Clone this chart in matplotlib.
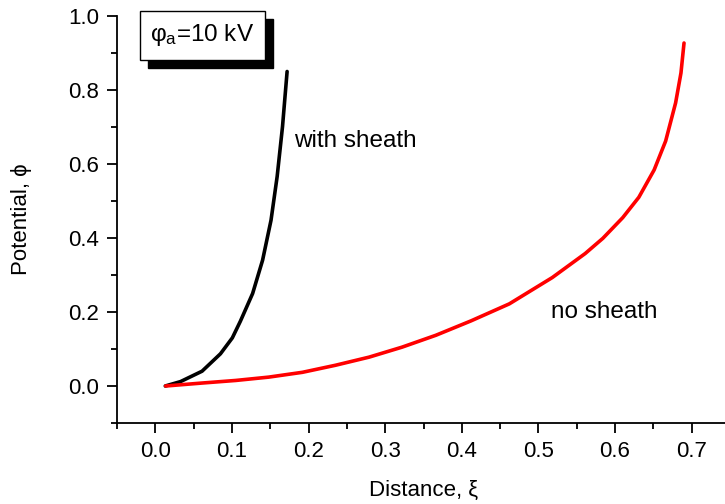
import matplotlib
matplotlib.use("Agg")
import matplotlib.pyplot as plt
from matplotlib.ticker import MultipleLocator
from matplotlib.patches import Rectangle

plt.rcParams['font.family'] = ['Liberation Sans', 'DejaVu Sans']
plt.rcParams['mathtext.fontset'] = 'custom'
plt.rcParams['mathtext.rm'] = 'Liberation Sans'
plt.rcParams['mathtext.it'] = 'Liberation Sans:italic'

# with sheath (black)
xi_sheath = [0.013, 0.033, 0.061, 0.085, 0.1005, 0.111, 0.127, 0.140, 0.151, 0.159, 0.166, 0.172]
phi_sheath = [0.0, 0.012, 0.040, 0.087, 0.130, 0.175, 0.250, 0.340, 0.448, 0.566, 0.701, 0.850]

# no sheath (red)
xi_nosheath = [0.0135, 0.061, 0.105, 0.148, 0.192, 0.235, 0.279, 0.322, 0.366, 0.412, 0.462,
               0.518, 0.561, 0.584, 0.610, 0.631, 0.651, 0.666, 0.679, 0.686, 0.690]
phi_nosheath = [0.0, 0.008, 0.015, 0.024, 0.037, 0.056, 0.078, 0.105, 0.137, 0.176, 0.222,
                0.293, 0.358, 0.399, 0.455, 0.510, 0.584, 0.662, 0.765, 0.846, 0.927]

x_ticks = [0.0, 0.1, 0.2, 0.3, 0.4, 0.5, 0.6, 0.7]
y_ticks = [0.0, 0.2, 0.4, 0.6, 0.8, 1.0]

fig = plt.figure(figsize=(7.25, 5.04), dpi=100)
W, H = 725, 504
left, right, top, bottom = 117, 730, 16, 423
ax = fig.add_axes([left / W, 1 - bottom / H, (right - left) / W, (bottom - top) / H])

ax.plot(xi_sheath, phi_sheath, color='black', lw=2.6, solid_capstyle='round',
        solid_joinstyle='round')
ax.plot(xi_nosheath, phi_nosheath, color='red', lw=2.6, solid_capstyle='round',
        solid_joinstyle='round')

ax.set_xlim(-0.05, 0.75)
ax.set_ylim(-0.1, 1.0)
ax.set_xticks(x_ticks)
ax.set_yticks(y_ticks)
ax.set_xticklabels([f"{v:.1f}" for v in x_ticks])
ax.set_yticklabels([f"{v:.1f}" for v in y_ticks])
ax.xaxis.set_minor_locator(MultipleLocator(0.05))
ax.yaxis.set_minor_locator(MultipleLocator(0.1))
for s in ['top', 'right']:
    ax.spines[s].set_visible(False)
for s in ['left', 'bottom']:
    ax.spines[s].set_linewidth(1.3)
ax.tick_params(which='major', direction='out', length=7, width=1.3, labelsize=16, pad=6)
ax.tick_params(which='minor', direction='out', length=4, width=1.3)

ax.set_xlabel('Distance, ξ', fontsize=16, labelpad=13)
ax.set_ylabel('Potential, ϕ', fontsize=16, labelpad=26)

ax.text(0.181, 0.661, 'with sheath', fontsize=17.5, va='center', ha='left')
ax.text(0.517, 0.20, 'no sheath', fontsize=17.5, va='center', ha='left')

# legend-like box with shadow (figure pixel coordinates)
bx0, by0, bx1, by1 = 140, 11, 265, 60
off = 8
fig.patches.append(Rectangle((((bx0 + off) / W), 1 - (by1 + off) / H), (bx1 - bx0) / W, (by1 - by0) / H,
                             transform=fig.transFigure, facecolor='black', edgecolor='black', zorder=5))
fig.patches.append(Rectangle((bx0 / W, 1 - by1 / H), (bx1 - bx0) / W, (by1 - by0) / H,
                             transform=fig.transFigure, facecolor='white', edgecolor='black', lw=1.0, zorder=6))
fig.text((bx0 + bx1) / 2 / W, 1 - (by0 + by1) / 2 / H, r'$\mathregular{φ_a}$=10 kV',
         fontsize=17.5, ha='center', va='center', zorder=7)

fig.savefig('out.png', dpi=100)
